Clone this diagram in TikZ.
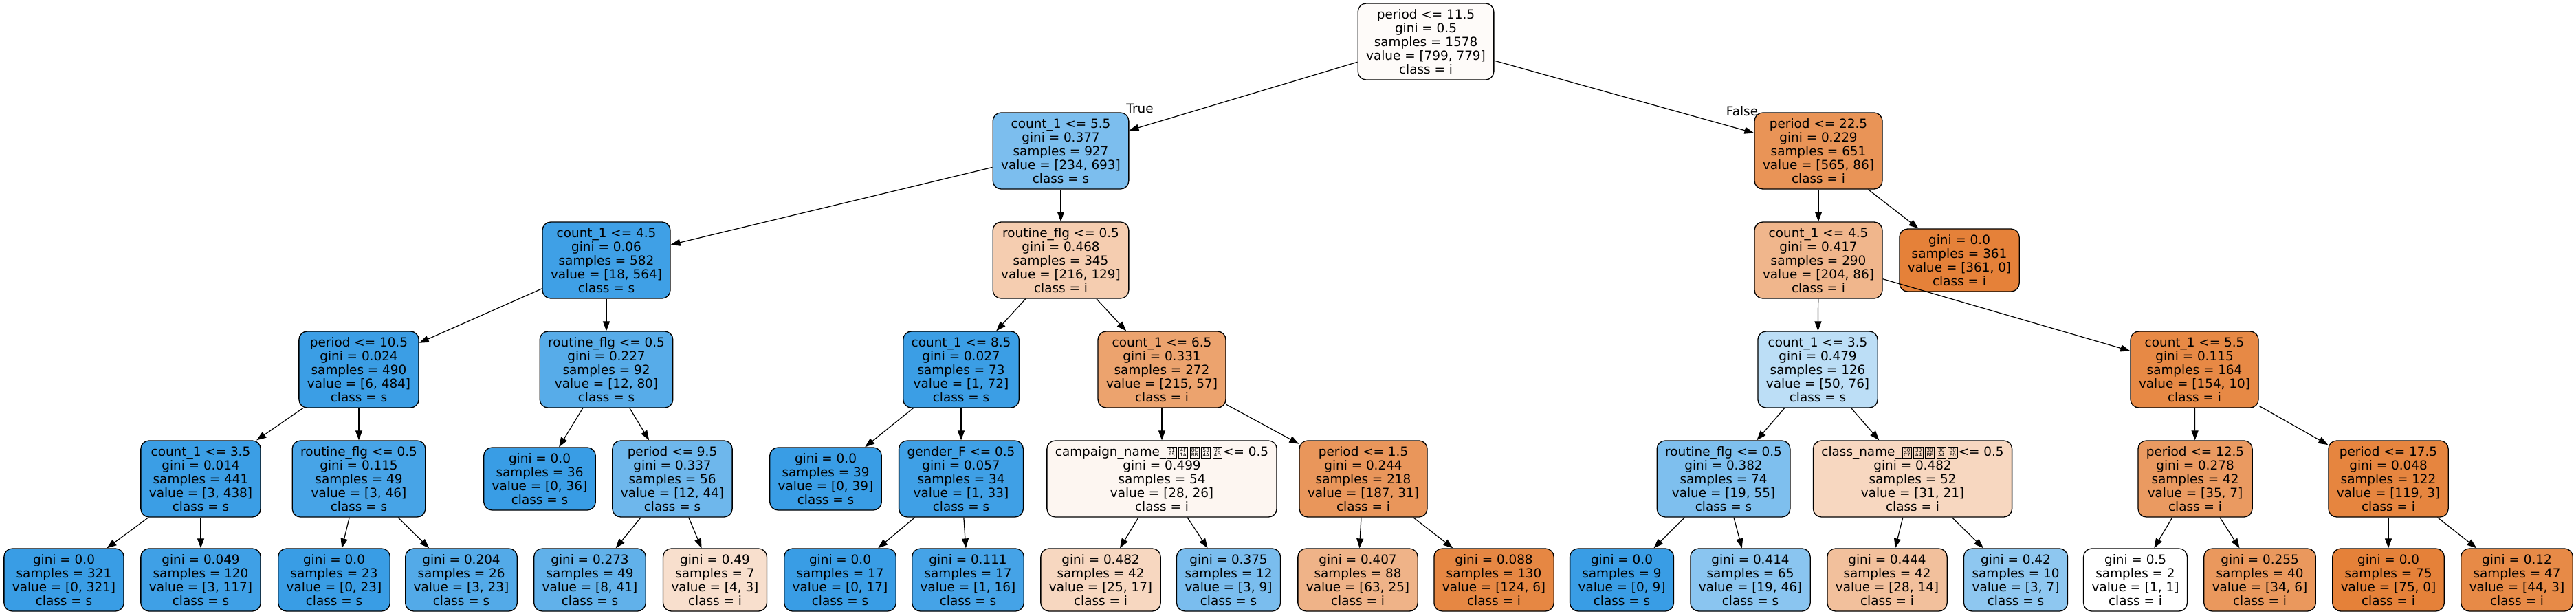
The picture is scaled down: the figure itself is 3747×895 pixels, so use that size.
\documentclass[tikz,border=0pt]{standalone}
\usepackage{fontspec}
\setmainfont{DejaVu Sans}
\usetikzlibrary{arrows.meta}
\definecolor{ci}{RGB}{229,129,57}
\definecolor{cs}{RGB}{57,157,229}
\newcommand{\tofu}[2]{\kern0.6pt\raisebox{-1.15pt}{\setlength{\fboxsep}{0pt}\setlength{\fboxrule}{0.45pt}\fbox{\vbox to 7.4pt{\offinterlineskip\vss\hbox to 6.2pt{\hss\fontsize{3.6pt}{3.6pt}\selectfont #1\hss}\vskip0.7pt\hbox to 6.2pt{\hss\fontsize{3.6pt}{3.6pt}\selectfont #2\hss}\vss}}}\kern0.6pt}
\newcommand{\leaftext}[4]{gini = #1\\samples = #2\\value = [#3]\\class = #4}
\begin{document}
\begin{tikzpicture}[x=0.5pt,y=-0.5pt,
  box/.style={draw=black, line width=0.65pt, rounded corners=6pt, align=center,
    font=\fontsize{9.2pt}{10pt}\selectfont, inner xsep=6pt, inner ysep=1pt},
  tn/.style={box, minimum height=55.5pt},
  lf/.style={box, minimum height=45.5pt},
  edge/.style={draw=black, line width=0.6pt, -{Triangle[length=7pt,width=5pt]}},
  lab/.style={font=\fontsize{9.2pt}{10pt}\selectfont, inner sep=0pt}]
\fill[white] (0,0) rectangle (3747,895);
\useasboundingbox (0,0) rectangle (3747,895);
% level 0
\node[tn, fill=ci!3!white] (r) at (2074,60.5) {period <= 11.5\\gini = 0.5\\samples = 1578\\value = [799, 779]\\class = i};
% level 1
\node[tn, fill=cs!66!white] (n1) at (1543,219.5) {count\_1 <= 5.5\\gini = 0.377\\samples = 927\\value = [234, 693]\\class = s};
\node[tn, fill=ci!85!white] (n2) at (2645,219.5) {period <= 22.5\\gini = 0.229\\samples = 651\\value = [565, 86]\\class = i};
% level 2
\node[tn, fill=cs!97!white] (n3) at (882,378.5) {count\_1 <= 4.5\\gini = 0.06\\samples = 582\\value = [18, 564]\\class = s};
\node[tn, fill=ci!40!white] (n4) at (1543,378.5) {routine\_flg <= 0.5\\gini = 0.468\\samples = 345\\value = [216, 129]\\class = i};
\node[tn, fill=ci!58!white] (n5) at (2645,378.5) {count\_1 <= 4.5\\gini = 0.417\\samples = 290\\value = [204, 86]\\class = i};
\node[lf, fill=ci] (n6) at (2850,378.5) {\leaftext{0.0}{361}{361, 0}{i}};
% level 3
\node[tn, fill=cs!99!white] (n7) at (522,537.5) {period <= 10.5\\gini = 0.024\\samples = 490\\value = [6, 484]\\class = s};
\node[tn, fill=cs!85!white] (n8) at (882,537.5) {routine\_flg <= 0.5\\gini = 0.227\\samples = 92\\value = [12, 80]\\class = s};
\node[tn, fill=cs!99!white] (n9) at (1398,537.5) {count\_1 <= 8.5\\gini = 0.027\\samples = 73\\value = [1, 72]\\class = s};
\node[tn, fill=ci!73!white] (n10) at (1690,537.5) {count\_1 <= 6.5\\gini = 0.331\\samples = 272\\value = [215, 57]\\class = i};
\node[tn, fill=cs!34!white] (n11) at (2644,537.5) {count\_1 <= 3.5\\gini = 0.479\\samples = 126\\value = [50, 76]\\class = s};
\node[tn, fill=ci!94!white] (n12) at (3192,537.5) {count\_1 <= 5.5\\gini = 0.115\\samples = 164\\value = [154, 10]\\class = i};
% level 4
\node[tn, fill=cs!99!white] (n13) at (292,696.5) {count\_1 <= 3.5\\gini = 0.014\\samples = 441\\value = [3, 438]\\class = s};
\node[tn, fill=cs!93!white] (n14) at (522,696.5) {routine\_flg <= 0.5\\gini = 0.115\\samples = 49\\value = [3, 46]\\class = s};
\node[lf, fill=cs] (n15) at (785,696.5) {\leaftext{0.0}{36}{0, 36}{s}};
\node[tn, fill=cs!73!white] (n16) at (978,696.5) {period <= 9.5\\gini = 0.337\\samples = 56\\value = [12, 44]\\class = s};
\node[lf, fill=cs] (n17) at (1201,696.5) {\leaftext{0.0}{39}{0, 39}{s}};
\node[tn, fill=cs!97!white] (n18) at (1398,696.5) {gender\_F <= 0.5\\gini = 0.057\\samples = 34\\value = [1, 33]\\class = s};
\node[tn, fill=ci!7!white] (n19) at (1690,696.5) {campaign\_name\_\tofu{51}{65}\tofu{4F}{1A}\tofu{8C}{BB}\tofu{53}{4A}\tofu{98}{4D} <= 0.5\\gini = 0.499\\samples = 54\\value = [28, 26]\\class = i};
\node[tn, fill=ci!83!white] (n20) at (1983,696.5) {period <= 1.5\\gini = 0.244\\samples = 218\\value = [187, 31]\\class = i};
\node[tn, fill=cs!65!white] (n21) at (2507,696.5) {routine\_flg <= 0.5\\gini = 0.382\\samples = 74\\value = [19, 55]\\class = s};
\node[tn, fill=ci!32!white] (n22) at (2782,696.5) {class\_name\_\tofu{30}{C7}\tofu{30}{A4}\tofu{30}{BF}\tofu{30}{A4}\tofu{30}{E0} <= 0.5\\gini = 0.482\\samples = 52\\value = [31, 21]\\class = i};
\node[tn, fill=ci!80!white] (n23) at (3193,696.5) {period <= 12.5\\gini = 0.278\\samples = 42\\value = [35, 7]\\class = i};
\node[tn, fill=ci!97!white] (n24) at (3474,696.5) {period <= 17.5\\gini = 0.048\\samples = 122\\value = [119, 3]\\class = i};
% level 5
\node[lf, fill=cs] (l1) at (93,843.5) {\leaftext{0.0}{321}{0, 321}{s}};
\node[lf, fill=cs!97!white] (l2) at (292,843.5) {\leaftext{0.049}{120}{3, 117}{s}};
\node[lf, fill=cs] (l3) at (486,843.5) {\leaftext{0.0}{23}{0, 23}{s}};
\node[lf, fill=cs!87!white] (l4) at (671,843.5) {\leaftext{0.204}{26}{3, 23}{s}};
\node[lf, fill=cs!80!white] (l5) at (858,843.5) {\leaftext{0.273}{49}{8, 41}{s}};
\node[lf, fill=ci!25!white] (l6) at (1040,843.5) {\leaftext{0.49}{7}{4, 3}{i}};
\node[lf, fill=cs] (l7) at (1222,843.5) {\leaftext{0.0}{17}{0, 17}{s}};
\node[lf, fill=cs!94!white] (l8) at (1408,843.5) {\leaftext{0.111}{17}{1, 16}{s}};
\node[lf, fill=ci!32!white] (l9) at (1601,843.5) {\leaftext{0.482}{42}{25, 17}{i}};
\node[lf, fill=cs!67!white] (l10) at (1787,843.5) {\leaftext{0.375}{12}{3, 9}{s}};
\node[lf, fill=ci!60!white] (l11) at (1975,843.5) {\leaftext{0.407}{88}{63, 25}{i}};
\node[lf, fill=ci!95!white] (l12) at (2173,843.5) {\leaftext{0.088}{130}{124, 6}{i}};
\node[lf, fill=cs] (l13) at (2359,843.5) {\leaftext{0.0}{9}{0, 9}{s}};
\node[lf, fill=cs!59!white] (l14) at (2546,843.5) {\leaftext{0.414}{65}{19, 46}{s}};
\node[lf, fill=ci!50!white] (l15) at (2745,843.5) {\leaftext{0.444}{42}{28, 14}{i}};
\node[lf, fill=cs!57!white] (l16) at (2932,843.5) {\leaftext{0.42}{10}{3, 7}{s}};
\node[lf, fill=white] (l17) at (3106,843.5) {\leaftext{0.5}{2}{1, 1}{i}};
\node[lf, fill=ci!82!white] (l18) at (3287,843.5) {\leaftext{0.255}{40}{34, 6}{i}};
\node[lf, fill=ci] (l19) at (3474,843.5) {\leaftext{0.0}{75}{75, 0}{i}};
\node[lf, fill=ci!93!white] (l20) at (3661,843.5) {\leaftext{0.12}{47}{44, 3}{i}};
% edge labels
\node[lab] (tl) at (1658,158) {True};
\node[lab] (fl) at (2534,162) {False};
% edges
\foreach \p/\c in {r/n1, r/n2, n1/n3, n1/n4, n2/n5, n2/n6, n3/n7, n3/n8, n4/n9, n4/n10,
  n5/n11, n5/n12, n7/n13, n7/n14, n8/n15, n8/n16, n9/n17, n9/n18, n10/n19, n10/n20,
  n11/n21, n11/n22, n12/n23, n12/n24, n13/l1, n13/l2, n14/l3, n14/l4, n16/l5, n16/l6,
  n18/l7, n18/l8, n19/l9, n19/l10, n20/l11, n20/l12, n21/l13, n21/l14, n22/l15, n22/l16,
  n23/l17, n23/l18, n24/l19, n24/l20}
  \draw[edge] (\p) -- (\c);
\end{tikzpicture}
\end{document}
